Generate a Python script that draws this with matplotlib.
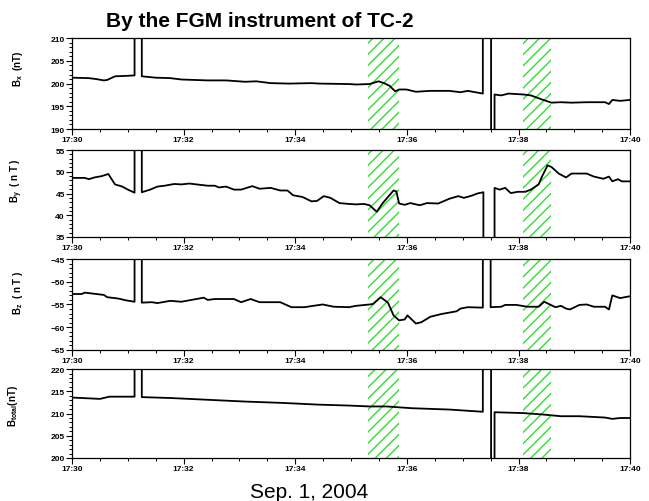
import matplotlib
matplotlib.use("Agg")
import matplotlib.pyplot as plt
from matplotlib.ticker import MultipleLocator, FixedLocator, FixedFormatter
import numpy as np

plt.rcParams['font.family'] = ['Liberation Sans', 'DejaVu Sans']
plt.rcParams['font.weight'] = 'bold'
plt.rcParams['mathtext.fontset'] = 'custom'
plt.rcParams['mathtext.rm'] = 'Liberation Sans:bold'
plt.rcParams['mathtext.bf'] = 'Liberation Sans:bold'
plt.rcParams['hatch.linewidth'] = 1.0

# minutes after 17:30 UT, Sep. 1, 2004 ; 999 / -999 = saturated spikes off scale
t_bx = [0.00, 0.30, 0.43, 0.57, 0.63, 0.77, 0.97, 1.12, 1.12, 1.25, 1.25, 1.50, 1.76, 1.96,
        2.43, 2.76, 3.10, 3.30, 3.56, 3.89, 4.29, 4.43, 4.96, 5.09, 5.33, 5.49, 5.59, 5.69,
        5.79, 5.86, 5.99, 6.16, 6.42, 6.76, 6.96, 7.09, 7.36, 7.36, 7.50, 7.52, 7.57, 7.69,
        7.82, 8.09, 8.22, 8.42, 8.59, 8.76, 8.95, 9.22, 9.55, 9.62, 9.68, 9.82, 9.99]
bx = [201.3, 201.2, 201.0, 200.7, 200.8, 201.6, 201.7, 201.8, 999, 999, 201.6, 201.3, 201.2, 200.9,
      200.7, 200.7, 200.4, 200.5, 200.1, 200.0, 200.1, 200.0, 199.9, 199.8, 199.9, 200.5, 200.1, 199.5,
      198.3, 198.7, 198.7, 198.2, 198.4, 198.4, 198.1, 198.4, 197.8, 999, 999, -999, 197.6, 197.4,
      197.8, 197.6, 197.4, 196.5, 195.8, 195.9, 195.8, 195.9, 195.9, 195.5, 196.4, 196.2, 196.4]

t_by = [0.00, 0.23, 0.30, 0.40, 0.53, 0.65, 0.77, 0.90, 1.00, 1.12, 1.12, 1.25, 1.25, 1.40,
        1.53, 1.66, 1.83, 1.96, 2.10, 2.23, 2.43, 2.56, 2.63, 2.76, 2.90, 3.03, 3.23, 3.36,
        3.56, 3.73, 3.86, 3.96, 4.13, 4.29, 4.39, 4.51, 4.63, 4.79, 4.96, 5.09, 5.23, 5.33,
        5.46, 5.56, 5.76, 5.81, 5.86, 5.96, 6.06, 6.23, 6.36, 6.56, 6.76, 6.92, 7.02, 7.16,
        7.26, 7.37, 7.37, 7.56, 7.57, 7.66, 7.76, 7.86, 7.99, 8.12, 8.22, 8.36, 8.42, 8.52,
        8.59, 8.72, 8.85, 8.95, 9.09, 9.22, 9.35, 9.52, 9.62, 9.68, 9.78, 9.85, 9.99]
by = [48.6, 48.6, 48.3, 48.7, 49.0, 49.5, 47.1, 46.6, 45.9, 45.2, 999, 999, 45.3, 45.9,
      46.6, 46.8, 47.2, 47.1, 47.3, 47.1, 46.8, 46.8, 46.4, 46.6, 45.9, 45.9, 46.7, 46.1,
      46.3, 45.7, 45.7, 44.6, 44.2, 43.2, 43.3, 44.4, 44.0, 42.8, 42.6, 42.5, 42.6, 42.3,
      40.8, 42.7, 45.7, 45.5, 42.7, 42.4, 42.8, 42.3, 42.8, 42.7, 43.8, 44.4, 44.0, 44.5,
      45.0, 45.3, -999, -999, 46.3, 45.9, 46.3, 45.1, 45.4, 45.4, 45.9, 47.1, 48.9, 51.5,
      51.1, 49.6, 48.7, 49.6, 49.6, 49.6, 48.9, 48.4, 48.9, 47.8, 48.3, 47.8, 47.8]

t_bz = [0.00, 0.17, 0.23, 0.37, 0.57, 0.63, 0.83, 0.97, 1.12, 1.12, 1.25, 1.25, 1.43, 1.53,
        1.76, 1.96, 2.23, 2.36, 2.43, 2.56, 2.90, 3.03, 3.20, 3.36, 3.73, 3.93, 4.16, 4.49,
        4.69, 4.96, 5.09, 5.33, 5.39, 5.53, 5.66, 5.76, 5.86, 5.96, 6.01, 6.16, 6.26, 6.42,
        6.62, 6.89, 6.96, 7.09, 7.36, 7.36, 7.50, 7.50, 7.69, 7.76, 7.96, 8.16, 8.36, 8.46,
        8.66, 8.76, 8.85, 8.92, 9.09, 9.22, 9.35, 9.55, 9.62, 9.68, 9.82, 9.99]
bz = [-52.7, -52.7, -52.4, -52.6, -52.9, -53.4, -53.7, -54.1, -54.4, 999, 999, -54.6, -54.5, -54.7,
      -54.2, -54.4, -53.8, -53.5, -54.0, -53.8, -53.8, -54.5, -53.8, -54.5, -54.5, -55.6, -55.6, -55.0,
      -55.5, -55.6, -55.3, -55.0, -54.9, -53.4, -54.6, -57.4, -58.5, -58.3, -57.4, -59.2, -58.9, -57.7,
      -57.1, -56.5, -55.9, -55.6, -55.7, 999, 999, -55.6, -55.5, -55.1, -55.1, -55.5, -55.5, -54.4,
      -55.6, -55.3, -55.9, -56.1, -55.1, -55.0, -55.5, -55.5, -56.1, -53.0, -53.6, -53.2]

t_bt = [0.00, 0.17, 0.50, 0.67, 1.12, 1.12, 1.25, 1.25, 1.76, 2.43, 3.10, 3.76, 4.43, 4.96,
        5.33, 5.63, 6.09, 6.76, 7.36, 7.36, 7.50, 7.52, 7.57, 8.09, 8.42, 8.76, 9.09, 9.55,
        9.68, 9.82, 9.99]
bt = [213.6, 213.5, 213.3, 213.8, 213.8, 999, 999, 213.7, 213.5, 213.1, 212.7, 212.4, 212.0, 211.8,
      211.6, 211.6, 211.2, 210.9, 210.4, 999, 999, -999, 210.3, 210.1, 209.8, 209.4, 209.4, 209.1,
      208.8, 209.0, 209.0]

# shaded intervals (minutes after 17:30)
bands = [(5.30, 5.86), (8.08, 8.58)]

xtick_pos = [0, 2, 4, 6, 8, 10]
xtick_labels = ['17:30', '17:32', '17:34', '17:36', '17:38', '17:40']

panels = [
    (t_bx, bx, (190, 210), r'$\mathbf{B_x}$  (nT)', (-0.084, 0.67)),
    (t_by, by, (35, 55), r'$\mathbf{B_y}$  ( n T )', (-0.084, 0.66)),
    (t_bz, bz, (-65, -45), r'$\mathbf{B_z}$  ( n T )', (-0.084, 0.64)),
    (t_bt, bt, (200, 220), r'$\mathbf{B_{total}}$(nT)', (-0.093, 0.60)),
]
rects = [
    [0.111, 0.741, 0.860, 0.181],
    [0.111, 0.526, 0.860, 0.173],
    [0.111, 0.301, 0.860, 0.181],
    [0.111, 0.0857, 0.860, 0.177],
]

fig = plt.figure(figsize=(6.49, 5.02), dpi=100)

for (t, v, ylim, lab, lpos), r in zip(panels, rects):
    ax = fig.add_axes(r)
    for b0, b1 in bands:
        ax.axvspan(b0, b1, facecolor='none', edgecolor='#33dd33', hatch='///',
                   linewidth=0, zorder=1)
    ax.plot(t, v, color='black', lw=1.3, zorder=3)
    ax.set_xlim(0, 10)
    ax.set_ylim(*ylim)
    ax.xaxis.set_major_locator(FixedLocator(xtick_pos))
    ax.xaxis.set_major_formatter(FixedFormatter(xtick_labels))
    ax.xaxis.set_minor_locator(MultipleLocator(0.5))
    ax.yaxis.set_major_locator(MultipleLocator(5))
    ax.yaxis.set_minor_locator(MultipleLocator(1))
    ax.tick_params(which='major', direction='out', length=4, width=0.8,
                   labelsize=6, pad=1.2)
    ax.tick_params(which='minor', direction='out', length=2, width=0.7)
    for sp in ax.spines.values():
        sp.set_linewidth(0.9)
    ax.set_ylabel(lab, fontsize=7, fontweight='bold')
    ax.yaxis.set_label_coords(*lpos)

fig.text(0.40, 0.946, 'By the FGM instrument of TC-2', ha='center', va='baseline',
         fontsize=15, fontweight='bold')
fig.text(0.476, 0.008, 'Sep. 1, 2004', ha='center', va='baseline',
         fontsize=15, fontweight='normal')

plt.savefig("out.png", dpi=100)
